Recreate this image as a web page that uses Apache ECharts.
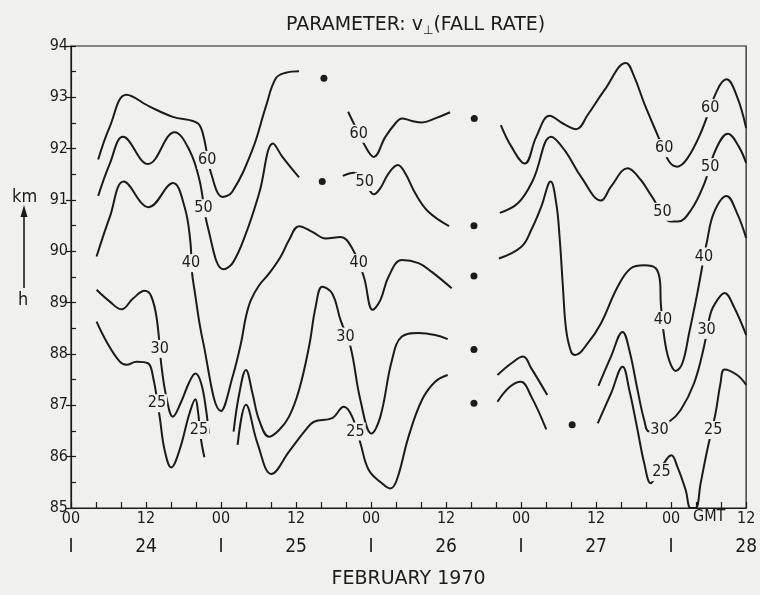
<!DOCTYPE html>
<html>
<head>
<meta charset="utf-8">
<script src="https://cdn.jsdelivr.net/npm/echarts/dist/echarts.min.js"></script>
<style>
  html, body { margin: 0; padding: 0; background: #f0f0ee; }
  #chart-container { width: 760px; height: 595px; }
</style>
</head>
<body>
<div id="chart-container"></div>
<script>
var dom = document.getElementById("chart-container");
var myChart = echarts.init(dom, null, { renderer: "canvas" });

const ink = "#1b1b1b";
const paper = "#f0f0ee";
const font = '"DejaVu Sans Condensed", "DejaVu Sans", sans-serif';
const wideFont = '"DejaVu Sans", sans-serif';

// contour segments: [hour since 24 Feb 00 GMT, height km]
const c60a = [[4.35, 91.79], [6.21, 92.43], [8.87, 93.05], [12.58, 92.82], [16.3, 92.62], [19.48, 92.54], [20.55, 92.46], [21.34, 92.17], [22.41, 91.52], [24.26, 91.06], [25.8, 91.16], [28.99, 91.97], [31.17, 92.82], [32.77, 93.37], [34.36, 93.48], [36.48, 93.51]];
const c50a = [[4.35, 91.08], [6.21, 91.71], [8.33, 92.23], [12.31, 91.7], [16.57, 92.32], [18.95, 91.97], [20.55, 91.39], [21.87, 90.48], [24.37, 89.65], [25.85, 89.77], [27.99, 90.35], [30.1, 91.13], [32.33, 92.1], [33.82, 91.84], [36.48, 91.44]];
const c40a = [[4.09, 89.9], [6.21, 90.67], [8.44, 91.36], [12.42, 90.86], [16.3, 91.33], [18.16, 90.87], [19.07, 90.22], [19.38, 89.57], [19.75, 89.25], [21.07, 88.27], [24.0, 86.89], [25.86, 87.56], [27.19, 88.21], [27.99, 88.73], [28.78, 89.05], [30.1, 89.34], [31.7, 89.57], [33.56, 89.9], [34.88, 90.22], [36.48, 90.49], [38.6, 90.38], [40.73, 90.25], [43.12, 90.28], [44.97, 90.06], [46.83, 89.51], [48.26, 88.86], [49.49, 89.05], [50.81, 89.51], [52.93, 89.83], [55.59, 89.77], [57.71, 89.6], [60.9, 89.28]];
const c30a = [[4.09, 89.25], [6.21, 89.02], [8.08, 88.87], [9.92, 89.08], [11.79, 89.23], [12.85, 89.12], [13.75, 88.66], [14.45, 87.79], [15.24, 87.17], [16.3, 86.78], [17.63, 87.07], [18.95, 87.46], [19.91, 87.62], [20.82, 87.43], [21.61, 86.91], [22.03, 86.45]];
const c30b = [[26.01, 86.49], [26.92, 87.23], [27.99, 87.69], [29.04, 87.23], [30.1, 86.71], [31.7, 86.39], [33.29, 86.52], [34.88, 86.78], [36.48, 87.3], [38.07, 88.14], [39.14, 88.92], [40.19, 89.31], [41.78, 89.18], [43.12, 88.66], [44.71, 88.14], [46.3, 87.1], [48.06, 86.45], [49.49, 86.78], [51.34, 87.88], [52.93, 88.34], [55.59, 88.41], [58.25, 88.37], [60.26, 88.29]];
const c25a = [[4.09, 88.63], [5.69, 88.24], [7.81, 87.85], [8.87, 87.79], [10.46, 87.85], [12.31, 87.82], [13.11, 87.56], [14.18, 86.78], [14.97, 86.13], [16.04, 85.79], [17.36, 86.13], [18.95, 86.84], [19.91, 87.12], [20.28, 86.91], [20.82, 86.32], [21.34, 85.99]];
const c25b = [[26.65, 86.23], [27.99, 87.01], [29.83, 86.26], [32.06, 85.66], [34.88, 86.1], [37.54, 86.52], [38.87, 86.68], [41.78, 86.75], [43.64, 86.97], [44.97, 86.78], [46.3, 86.26], [47.63, 85.74], [49.75, 85.48], [51.08, 85.38], [52.13, 85.55], [54.0, 86.39], [56.12, 87.1], [58.25, 87.46], [60.26, 87.59]];
const c60b = [[44.33, 92.72], [45.24, 92.49], [46.83, 92.1], [48.42, 91.84], [50.29, 92.23], [51.88, 92.49], [52.93, 92.59], [54.52, 92.54], [56.12, 92.51], [58.25, 92.59], [60.64, 92.71]];
const c50b = [[43.48, 91.47], [45.24, 91.53], [47.51, 91.23], [48.42, 91.11], [49.49, 91.23], [50.81, 91.52], [52.29, 91.68], [53.47, 91.52], [55.07, 91.13], [57.18, 90.77], [60.48, 90.49]];
const c60c = [[68.76, 92.46], [70.45, 92.04], [72.59, 91.71], [74.43, 92.23], [76.57, 92.64], [78.69, 92.49], [80.81, 92.38], [82.67, 92.66], [85.33, 93.14], [88.77, 93.67], [90.11, 93.4], [91.7, 92.88], [93.82, 92.27], [95.68, 91.75], [97.01, 91.65], [98.6, 91.81], [100.72, 92.3], [103.38, 93.14], [104.86, 93.35], [106.56, 93.01], [108, 92.4]];
const c50c = [[68.6, 90.75], [71.52, 90.94], [73.91, 91.39], [76.82, 92.23], [78.96, 91.97], [81.6, 91.45], [84.79, 90.99], [86.38, 91.26], [89.04, 91.62], [91.16, 91.39], [92.75, 91.1], [96.02, 90.58], [97.09, 90.58], [99.21, 90.81], [101.34, 91.33], [103.1, 91.97], [105.08, 92.29], [106.83, 92.04], [108, 91.72]];
const c40c = [[68.45, 89.86], [72.05, 90.09], [73.64, 90.42], [75.23, 90.87], [76.73, 91.36], [77.62, 90.94], [78.16, 90.28], [78.69, 89.31], [79.21, 88.47], [80.01, 88.04], [80.65, 87.98], [82.67, 88.21], [84.79, 88.6], [87.45, 89.31], [89.57, 89.67], [91.7, 89.73], [93.55, 89.67], [94.25, 89.38], [94.35, 88.99], [94.89, 88.34], [95.68, 87.88], [96.73, 87.67], [97.8, 87.82], [98.87, 88.4], [100.19, 89.18], [101.78, 90.22], [102.9, 90.77], [104.86, 91.08], [106.56, 90.74], [108, 90.26]];
const c30s = [[68.22, 87.59], [70.45, 87.82], [72.32, 87.95], [73.64, 87.72], [76.19, 87.2]];
const c25s = [[68.22, 87.07], [70.2, 87.36], [71.95, 87.46], [73.64, 87.17], [76.03, 86.53]];
const c30c = [[84.37, 87.38], [86.38, 87.95], [88.24, 88.43], [89.31, 88.08], [90.63, 87.3], [91.7, 86.71], [92.49, 86.49], [95.68, 86.68], [97.53, 86.91], [99.67, 87.43], [101.26, 88.14], [102.31, 88.79], [103.38, 89.05], [104.54, 89.19], [106.04, 88.92], [108, 88.37]];
const c25c = [[84.26, 86.65], [86.38, 87.23], [88.24, 87.75], [89.31, 87.3], [90.63, 86.52], [91.7, 85.87], [92.75, 85.48], [93.55, 85.61], [95.41, 85.97], [96.05, 86.03], [97.01, 85.8], [98.33, 85.35], [99.12, 85.0], [99.92, 85.0], [100.72, 85.48], [101.78, 86.13], [103.1, 86.84], [103.9, 87.43], [104.54, 87.7], [106.56, 87.59], [108, 87.4]];

// isoline labels: [text, hour, km]
const contourLabels = [
  ["60", 21.8, 91.78], ["60", 46.03, 92.29], ["60", 94.89, 92.01], ["60", 102.26, 92.79],
  ["50", 21.19, 90.84], ["50", 46.99, 91.35], ["50", 94.62, 90.77], ["50", 102.26, 91.64],
  ["40", 19.2, 89.77], ["40", 46.03, 89.77], ["40", 94.7, 88.66], ["40", 101.26, 89.9],
  ["30", 14.18, 88.1], ["30", 43.91, 88.34], ["30", 94.14, 86.52], ["30", 101.67, 88.47],
  ["25", 13.75, 87.04], ["25", 20.47, 86.52], ["25", 45.51, 86.49], ["25", 94.46, 85.7], ["25", 102.74, 86.52]
];

// single observations between the gaps
const gapDots = [[40.46, 93.37], [40.19, 91.36], [64.51, 92.59], [64.46, 90.5], [64.46, 89.52], [64.46, 88.09], [64.46, 87.04], [80.17, 86.62]];

const segments = [c60a, c50a, c40a, c30a, c30b, c25a, c25b, c60b, c50b, c60c, c50c, c40c, c30s, c25s, c30c, c25c];

const firstDay = 24;

var option = {
  backgroundColor: paper,
  animation: false,
  textStyle: { fontFamily: font, color: ink },
  title: {
    text: "{a|PARAMETER: v}{s|⊥}{a|(FALL RATE)}",
    left: 281,
    top: 8,
    textStyle: {
      fontWeight: "normal",
      rich: {
        a: { fontFamily: wideFont, fontSize: 19, fontWeight: "normal", color: ink, lineHeight: 24 },
        s: { fontFamily: wideFont, fontSize: 12, fontWeight: "normal", color: ink, lineHeight: 9, verticalAlign: "bottom" },
      },
    },
  },
  grid: {
    left: 71,
    right: 11,
    top: 46,
    bottom: 87,
    show: true,
    borderColor: ink,
    borderWidth: 1.2,
  },
  xAxis: [
    {
      type: "value",
      min: 0,
      max: 108,
      interval: 4,
      position: "bottom",
      axisLine: { show: true, lineStyle: { color: ink, width: 1.2 } },
      axisTick: { show: true, inside: true, length: 6, lineStyle: { color: ink, width: 1.2 } },
      axisLabel: {
        color: ink,
        fontSize: 16,
        margin: 3,
        fontFamily: font,
        formatter: function (v) {
          if (v % 12 !== 0) return "";
          return v % 24 === 0 ? "00" : "12";
        },
      },
      splitLine: { show: false },
    },
    {
      type: "value",
      min: 0,
      max: 108,
      interval: 12,
      position: "bottom",
      offset: 22,
      axisLine: { show: false },
      axisTick: { show: false },
      axisLabel: {
        color: ink,
        fontSize: 19,
        fontFamily: font,
        formatter: function (v) {
          if (v % 24 === 0) return "I";
          return String(firstDay + Math.floor(v / 24));
        },
      },
      splitLine: { show: false },
      name: "FEBRUARY 1970",
      nameLocation: "middle",
      nameGap: 40,
      nameTextStyle: { color: ink, fontSize: 19, fontFamily: wideFont },
    },
  ],
  yAxis: [
    {
      type: "value",
      min: 85,
      max: 94,
      interval: 1,
      axisLine: { show: true, lineStyle: { color: ink, width: 1.2 } },
      axisTick: { show: true, inside: false, length: 5, lineStyle: { color: ink, width: 1.2 } },
      axisLabel: { color: ink, fontSize: 16, margin: 3, fontFamily: font },
      splitLine: { show: false },
    },
    {
      type: "value",
      min: 85,
      max: 94,
      interval: 0.5,
      position: "left",
      axisLine: { show: false },
      axisTick: { show: true, inside: true, length: 5, lineStyle: { color: ink, width: 1.2 } },
      axisLabel: { show: false },
      splitLine: { show: false },
    },
  ],
  graphic: [
    { type: "text", left: 12, top: 188, style: { text: "km", font: "18px " + font, fill: ink } },
    { type: "line", shape: { x1: 24, y1: 288, x2: 24, y2: 214 }, style: { stroke: ink, lineWidth: 1.6 } },
    { type: "polygon", shape: { points: [[24, 205], [20.5, 217], [27.5, 217]] }, style: { fill: ink } },
    { type: "text", left: 18, top: 291, style: { text: "h", font: "18px " + font, fill: ink } },
    { type: "text", left: 693, top: 509, style: { text: "GMT", font: "16px " + font, fill: ink } },
  ],
  series: segments
    .map(function (seg) {
      return {
        type: "line",
        data: seg,
        smooth: 0.4,
        showSymbol: false,
        silent: true,
        z: 2,
        lineStyle: { color: ink, width: 2 },
      };
    })
    .concat([
      {
        type: "scatter",
        data: gapDots,
        symbolSize: 7,
        silent: true,
        z: 3,
        itemStyle: { color: ink, opacity: 1 },
      },
      {
        type: "scatter",
        data: contourLabels.map(function (l) {
          return { name: l[0], value: [l[1], l[2]] };
        }),
        symbolSize: 1,
        silent: true,
        z: 5,
        itemStyle: { color: "rgba(0,0,0,0)", opacity: 1 },
        label: {
          show: true,
          position: "inside",
          formatter: "{b}",
          fontSize: 16,
          fontFamily: font,
          color: ink,
          opacity: 1,
          backgroundColor: paper,
          padding: [1, 1],
        },
      },
    ]),
};

myChart.setOption(option);
window.addEventListener("resize", myChart.resize);
</script>
</body>
</html>
